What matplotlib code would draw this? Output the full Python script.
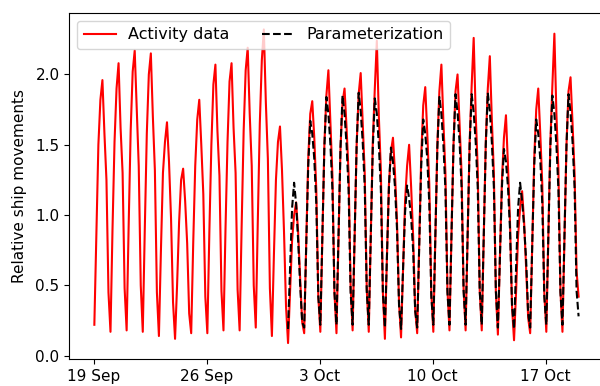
import matplotlib
matplotlib.use("Agg")
import matplotlib.pyplot as plt
import matplotlib.dates as mdates
import pandas as pd
import numpy as np

# 3-hourly samples (hours 1,4,7,10,13,16,19,22 of each day)
red_start = "2016-09-19 01:00"
red_values = [
    0.22, 0.85, 1.50, 1.82, 1.96, 1.58, 1.25, 0.45,   # 19 Sep
    0.17, 0.90, 1.52, 1.90, 2.08, 1.62, 1.30, 0.48,   # 20 Sep
    0.18, 0.92, 1.60, 2.02, 2.17, 1.75, 1.35, 0.50,   # 21 Sep
    0.17, 0.90, 1.58, 2.00, 2.15, 1.70, 1.32, 0.45,   # 22 Sep
    0.14, 0.75, 1.30, 1.52, 1.66, 1.38, 0.98, 0.38,   # 23 Sep
    0.12, 0.50, 0.95, 1.25, 1.33, 1.10, 0.80, 0.30,   # 24 Sep
    0.16, 0.80, 1.35, 1.68, 1.82, 1.50, 1.15, 0.42,   # 25 Sep
    0.16, 0.88, 1.50, 1.93, 2.07, 1.60, 1.28, 0.46,   # 26 Sep
    0.18, 0.90, 1.52, 1.95, 2.08, 1.62, 1.30, 0.47,   # 27 Sep
    0.18, 0.92, 1.60, 2.03, 2.19, 1.72, 1.35, 0.50,   # 28 Sep
    0.20, 0.95, 1.65, 2.10, 2.32, 1.80, 1.40, 0.48,   # 29 Sep
    0.14, 0.72, 1.25, 1.52, 1.63, 1.32, 0.88, 0.35,   # 30 Sep
    0.09, 0.45, 0.82, 1.00, 1.09, 0.88, 0.55, 0.24,   # 1 Oct
    0.16, 0.80, 1.40, 1.72, 1.81, 1.55, 1.18, 0.42,   # 2 Oct
    0.17, 0.85, 1.50, 1.85, 2.03, 1.65, 1.28, 0.45,   # 3 Oct
    0.16, 0.82, 1.48, 1.80, 1.90, 1.62, 1.30, 0.50,   # 4 Oct
    0.18, 0.85, 1.50, 1.86, 2.01, 1.65, 1.30, 0.48,   # 5 Oct
    0.17, 0.85, 1.52, 1.90, 2.24, 1.70, 1.32, 0.45,   # 6 Oct
    0.12, 0.70, 1.22, 1.45, 1.55, 1.30, 0.95, 0.38,   # 7 Oct
    0.13, 0.62, 1.10, 1.35, 1.50, 1.20, 0.85, 0.33,   # 8 Oct
    0.16, 0.80, 1.42, 1.78, 1.91, 1.58, 1.22, 0.45,   # 9 Oct
    0.17, 0.85, 1.50, 1.88, 2.07, 1.66, 1.30, 0.47,   # 10 Oct
    0.18, 0.86, 1.50, 1.88, 2.00, 1.65, 1.30, 0.48,   # 11 Oct
    0.18, 0.86, 1.52, 1.92, 2.26, 1.72, 1.33, 0.46,   # 12 Oct
    0.18, 0.85, 1.52, 1.90, 2.13, 1.68, 1.30, 0.45,   # 13 Oct
    0.15, 0.70, 1.25, 1.55, 1.71, 1.35, 0.95, 0.35,   # 14 Oct
    0.11, 0.45, 0.85, 1.05, 1.17, 0.95, 0.62, 0.27,   # 15 Oct
    0.16, 0.78, 1.40, 1.75, 1.90, 1.58, 1.22, 0.45,   # 16 Oct
    0.17, 0.85, 1.52, 1.92, 2.29, 1.72, 1.32, 0.46,   # 17 Oct
    0.17, 0.85, 1.50, 1.88, 1.98, 1.65, 1.30, 0.60,   # 18 Oct
    0.42,                                             # 19 Oct
]

black_start = "2016-10-01 01:00"
black_values = [
    0.19, 0.62, 1.05, 1.23, 1.08, 0.82, 0.50, 0.24,   # 1 Oct
    0.20, 0.78, 1.35, 1.67, 1.58, 1.40, 1.08, 0.42,   # 2 Oct
    0.22, 0.85, 1.48, 1.84, 1.72, 1.50, 1.18, 0.45,   # 3 Oct
    0.22, 0.85, 1.48, 1.85, 1.72, 1.50, 1.18, 0.45,   # 4 Oct
    0.22, 0.86, 1.50, 1.87, 1.74, 1.52, 1.20, 0.46,   # 5 Oct
    0.22, 0.85, 1.48, 1.83, 1.72, 1.50, 1.18, 0.45,   # 6 Oct
    0.20, 0.70, 1.20, 1.48, 1.38, 1.20, 0.90, 0.36,   # 7 Oct
    0.19, 0.62, 1.02, 1.21, 1.12, 0.98, 0.75, 0.32,   # 8 Oct
    0.20, 0.78, 1.35, 1.68, 1.58, 1.40, 1.08, 0.42,   # 9 Oct
    0.22, 0.85, 1.48, 1.84, 1.72, 1.50, 1.18, 0.45,   # 10 Oct
    0.22, 0.86, 1.50, 1.86, 1.73, 1.52, 1.20, 0.46,   # 11 Oct
    0.22, 0.86, 1.50, 1.86, 1.73, 1.52, 1.20, 0.46,   # 12 Oct
    0.22, 0.86, 1.50, 1.87, 1.74, 1.52, 1.20, 0.46,   # 13 Oct
    0.20, 0.70, 1.20, 1.47, 1.38, 1.20, 0.90, 0.36,   # 14 Oct
    0.19, 0.62, 1.05, 1.23, 1.10, 0.92, 0.68, 0.30,   # 15 Oct
    0.20, 0.78, 1.35, 1.68, 1.58, 1.40, 1.08, 0.42,   # 16 Oct
    0.22, 0.85, 1.48, 1.85, 1.72, 1.50, 1.18, 0.45,   # 17 Oct
    0.22, 0.86, 1.50, 1.86, 1.73, 1.52, 1.20, 0.46,   # 18 Oct
    0.28,                                             # 19 Oct
]

tick_dates = ["2016-09-19", "2016-09-26", "2016-10-03", "2016-10-10", "2016-10-17"]
tick_labels = ["19 Sep", "26 Sep", "3 Oct", "10 Oct", "17 Oct"]
yticks = [0.0, 0.5, 1.0, 1.5, 2.0]

red_t = pd.date_range(red_start, periods=len(red_values), freq="3h")
black_t = pd.date_range(black_start, periods=len(black_values), freq="3h")

plt.rcParams["font.family"] = ["DejaVu Sans"]
fig = plt.figure(figsize=(6.0, 3.86), dpi=100)
ax = fig.add_axes([0.1155, 0.0699, 0.8878, 0.8964])

ax.plot(red_t, red_values, color="red", lw=1.5, label="Activity data")
ax.plot(black_t, black_values, color="black", lw=1.5, ls="--", label="Parameterization")

x0 = pd.Timestamp("2016-09-19")
ax.set_xlim(mdates.date2num(x0 - pd.Timedelta(days=1.51)),
            mdates.date2num(x0 + pd.Timedelta(days=31.49)))
ax.set_ylim(-0.0235, 2.437)

ax.set_xticks(mdates.date2num(pd.to_datetime(tick_dates)))
ax.set_xticklabels(tick_labels, fontsize=11)
ax.set_yticks(yticks)
ax.set_yticklabels([f"{v:.1f}" for v in yticks], fontsize=11)
ax.set_ylabel("Relative ship movements", fontsize=11, labelpad=6)

ax.legend(loc="upper left", ncol=2, fontsize=11.5, bbox_to_anchor=(0.0, 1.0))

fig.savefig("out.png", dpi=100)
